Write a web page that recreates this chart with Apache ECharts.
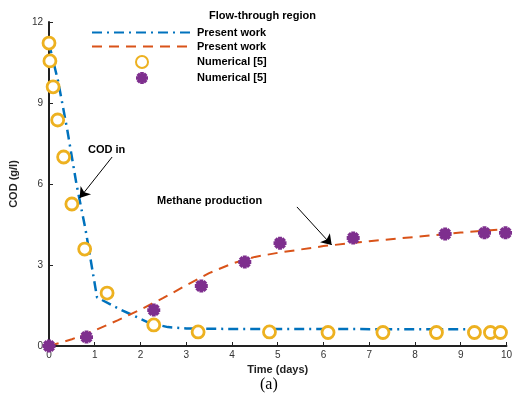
<!DOCTYPE html>
<html>
<head>
<meta charset="utf-8">
<script src="https://cdn.jsdelivr.net/npm/echarts@6/dist/echarts.min.js"></script>
<style>
  html, body { margin: 0; padding: 0; background: #fff; }
  #chart { width: 515px; height: 399px; }
</style>
</head>
<body>
<div id="chart"></div>
<script>
// COD in, present work (dash-dot line)
const codModel = [
  [0, 11.2], [0.2, 9.8], [0.4, 8.0], [0.6, 6.0], [0.8, 4.3], [0.95, 2.8],
  [1.05, 1.8], [1.5, 1.4], [2.2, 0.85], [2.6, 0.7], [3, 0.65], [4, 0.63], [10, 0.62]
];
// methane production, present work (dashed line)
const methaneModel = [
  [0, 0], [0.5, 0.25], [1, 0.58], [1.5, 0.95], [2, 1.35], [2.5, 1.78], [3, 2.25],
  [3.5, 2.7], [4, 3.05], [4.5, 3.3], [5, 3.45], [6, 3.7], [7, 3.88], [8, 4.04],
  [9, 4.2], [10, 4.33]
];
// numerical [5], COD (circles)
const codNumerical = [
  [0, 11.22], [0.02, 10.56], [0.09, 9.6], [0.19, 8.37], [0.32, 7.0], [0.5, 5.26],
  [0.78, 3.59], [1.27, 1.96], [2.29, 0.78], [3.26, 0.52], [4.82, 0.52], [6.1, 0.5],
  [7.3, 0.5], [8.47, 0.5], [9.3, 0.5], [9.65, 0.5], [9.87, 0.5]
];
// numerical [5], methane (stars)
const methaneNumerical = [
  [0, 0], [0.82, 0.33], [2.29, 1.33], [3.33, 2.22], [4.28, 3.11], [5.05, 3.81],
  [6.65, 4.0], [8.66, 4.15], [9.52, 4.19], [9.98, 4.19]
];
const seriesNames = ['Present work', 'Present work ', 'Numerical [5]', 'Numerical [5] '];
const xTicks = [0, 1, 2, 3, 4, 5, 6, 7, 8, 9, 10];
const yTicks = [0, 3, 6, 9, 12];

const font = '"Liberation Sans", Arial, sans-serif';
const starPath = 'path://M0,7L20,7L20,13L0,13Z M7,0L13,0L13,20L7,20Z ' +
  'M5.05,0.81L19.19,14.95L14.95,19.19L0.81,5.05Z M14.95,0.81L19.19,5.05L5.05,19.19L0.81,14.95Z';

const chart = echarts.init(document.getElementById('chart'));

// legend line entries: line only, no marker
const noMarker = { color: 'rgba(0,0,0,0)', borderColor: 'rgba(0,0,0,0)', borderWidth: 0 };

const option = {
  animation: false,
  textStyle: { fontFamily: font },
  grid: { left: 46, right: 6, top: 22, bottom: 53 },
  title: {
    text: 'Flow-through region',
    left: 204, top: 5,
    textStyle: { fontFamily: font, fontSize: 11, fontWeight: 'bold', color: '#000' }
  },
  legend: {
    orient: 'vertical',
    left: 86, top: 22,
    itemWidth: 100, itemHeight: 12, itemGap: 3,
    textStyle: { fontFamily: font, fontSize: 11, fontWeight: 'bold', color: '#000' },
    data: [
      { name: seriesNames[0], itemStyle: noMarker },
      { name: seriesNames[1], itemStyle: noMarker },
      { name: seriesNames[2] },
      { name: seriesNames[3] }
    ],
    formatter: name => name.trim()
  },
  xAxis: {
    type: 'value', min: 0, max: 10, interval: 1,
    name: 'Time (days)', nameLocation: 'middle', nameGap: 16,
    nameTextStyle: { fontFamily: font, fontSize: 11, fontWeight: 'bold', color: '#222' },
    axisLine: { lineStyle: { color: '#222', width: 2 } },
    axisTick: { inside: true, length: 4, lineStyle: { color: '#222' } },
    axisLabel: { fontSize: 10, color: '#333', margin: 4, formatter: v => xTicks.includes(v) ? String(v) : '' },
    splitLine: { show: false }
  },
  yAxis: {
    type: 'value', min: 0, max: 12, interval: 3,
    name: 'COD (g/l)', nameLocation: 'middle', nameGap: 30,
    nameTextStyle: { fontFamily: font, fontSize: 11, fontWeight: 'bold', color: '#222' },
    axisLine: { show: true, lineStyle: { color: '#222', width: 2 } },
    axisTick: { show: true, inside: true, length: 4, lineStyle: { color: '#222' } },
    axisLabel: { fontSize: 10, color: '#333', margin: 6, formatter: v => yTicks.includes(v) ? String(v) : '' },
    splitLine: { show: false }
  },
  series: [
    {
      name: seriesNames[0], type: 'line', data: codModel, showSymbol: false, symbol: 'none',
      lineStyle: { color: '#0072BD', width: 2.5, type: [10, 5, 2, 5] },
      itemStyle: { color: '#0072BD' }, z: 3,
      markLine: {
        silent: true, symbol: ['none', 'arrow'], symbolSize: 10,
        lineStyle: { color: '#000', width: 1, type: 'solid' },
        label: { show: false },
        data: [[{ coord: [1.38, 7.0] }, { coord: [0.67, 5.48] }]]
      }
    },
    {
      name: seriesNames[1], type: 'line', data: methaneModel, showSymbol: false, symbol: 'none',
      lineStyle: { color: '#D95319', width: 2, type: [10, 7] },
      itemStyle: { color: '#D95319' }, z: 3,
      markLine: {
        silent: true, symbol: ['none', 'arrow'], symbolSize: 10,
        lineStyle: { color: '#000', width: 1, type: 'solid' },
        label: { show: false },
        data: [[{ coord: [5.42, 5.15] }, { coord: [6.18, 3.74] }]]
      }
    },
    {
      name: seriesNames[2], type: 'scatter', data: codNumerical,
      symbol: 'circle', symbolSize: 12,
      itemStyle: { color: '#fff', borderColor: '#EDB120', borderWidth: 2.8, opacity: 1 }, z: 4
    },
    {
      name: seriesNames[3], type: 'scatter', data: methaneNumerical,
      symbol: starPath, symbolSize: 13,
      itemStyle: { color: '#7E2F8E', opacity: 1 }, z: 4
    }
  ],
  graphic: [
    { type: 'text', left: 88, top: 144,
      style: { text: 'COD in', font: 'bold 11px ' + font, fill: '#000' } },
    { type: 'text', left: 157, top: 195,
      style: { text: 'Methane production', font: 'bold 11px ' + font, fill: '#000' } },
    { type: 'text', left: 260, top: 377,
      style: { text: '(a)', font: '16px "Liberation Serif", "Times New Roman", serif', fill: '#000' } }
  ]
};

chart.setOption(option);
</script>
</body>
</html>
